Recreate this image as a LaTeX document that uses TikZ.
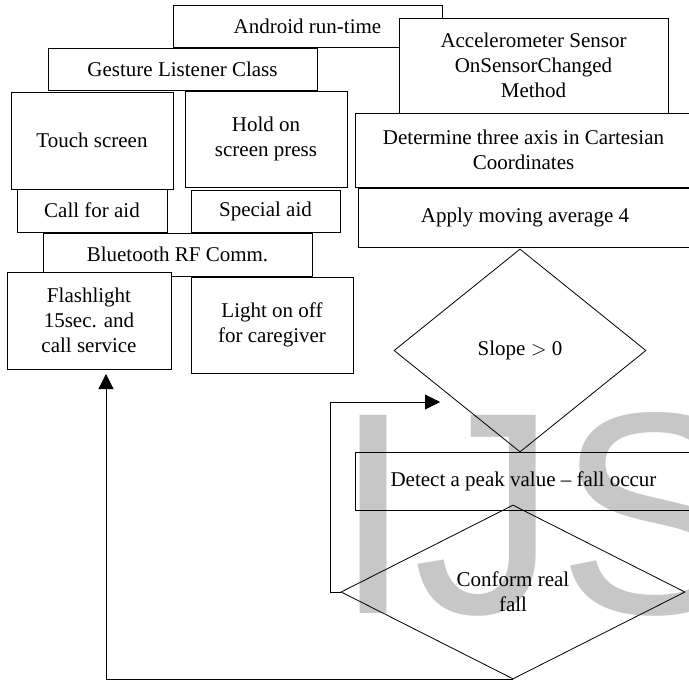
\documentclass[tikz,border=0pt]{standalone}
\usepackage{fontspec}
\setmainfont{Liberation Serif}
\newfontfamily\wmfont{Liberation Sans}
\usetikzlibrary{shapes.geometric,arrows.meta}
\begin{document}
\begin{tikzpicture}[x=1pt,y=-1pt,
  box/.style={draw, rectangle, line width=0.8pt, inner sep=0pt, align=center,
    font=\fontsize{21}{25}\selectfont},
  wbox/.style={box, fill=white},
  dia/.style={draw, diamond, line width=0.8pt, inner sep=0pt, align=center,
    font=\fontsize{21}{25}\selectfont},
  conn/.style={line width=0.8pt},
  tip/.style={-{Triangle[length=15pt,width=15pt]}},
  wmark/.style={anchor=base west, inner sep=0pt, text=black!22,
    font=\wmfont\fontsize{288}{288}\selectfont}]
\useasboundingbox (0,0) rectangle (689,680);
\clip (0,0) rectangle (689,680);
% watermark
\node[wmark] (wm) at (333,613) {IJS};
% left column
\node[box, minimum width=269, minimum height=42] (android) at (307.5,26) {Android run-time};
\node[box, minimum width=269, minimum height=42] (gesture) at (182.5,69) {Gesture Listener Class};
\node[wbox, minimum width=269, minimum height=95] (accel) at (533.5,65.5) {Accelerometer Sensor\\OnSensorChanged\\Method};
\node[box, minimum width=162, minimum height=97] (touch) at (92,140.5) {Touch screen};
\node[box, minimum width=162, minimum height=96] (hold) at (266,139) {Hold on\\screen press};
\node[box, minimum width=337, minimum height=74] (determine) at (523.5,150) {Determine three axis in Cartesian\\Coordinates};
\node[box, minimum width=150, minimum height=43] (callaid) at (92,210.5) {Call for aid};
\node[box, minimum width=149, minimum height=42] (special) at (265.5,211) {Special aid};
\node[box, minimum width=334, minimum height=59] (apply) at (525,217.5) {Apply moving average 4};
\node[box, minimum width=269, minimum height=43] (bt) at (177.5,254.5) {Bluetooth RF Comm.};
\node[wbox, minimum width=164, minimum height=97] (flash) at (89,320.5) {Flashlight\\15sec. and\\call service};
\node[wbox, minimum width=162, minimum height=96] (light) at (272,325) {Light on off\\for caregiver};
% right flow
\node[dia, minimum width=252, minimum height=203] (slope) at (520,350.5) {Slope $>$ 0};
\node[box, minimum width=337, minimum height=58] (detect) at (523.5,481) {Detect a peak value -- fall occur};
\node[dia, minimum width=344, minimum height=174] (conf) at (513,592) {Conform real\\fall};
% connectors
\coordinate (fbtip) at (440,402);
\coordinate (uptip) at (106,374);
\draw[conn,tip] (conf.west) -- ++(-10,0) |- (fbtip);
\draw[conn,tip] (conf.south) -| (uptip);
\end{tikzpicture}
\end{document}
